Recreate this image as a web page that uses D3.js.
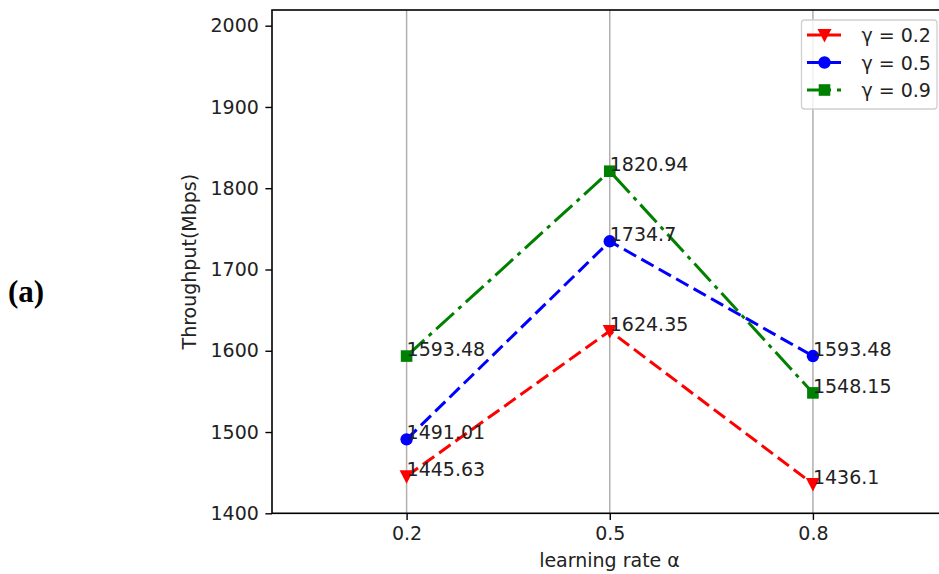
<!DOCTYPE html>
<html>
<head>
<meta charset="utf-8">
<script src="https://cdn.jsdelivr.net/npm/d3@7/dist/d3.min.js"></script>
<style>
  html, body { margin: 0; padding: 0; background: #fff; overflow: hidden; }
  svg { display: block; }
</style>
</head>
<body>
<svg id="chart" width="939" height="574"></svg>
<script>
// Learning-rate sweep: throughput for three discount factors
const learningRates = ["0.2", "0.5", "0.8"];
const gamma02 = [1445.63, 1624.35, 1436.1];
const gamma05 = [1491.01, 1734.7, 1593.48];
const gamma09 = [1593.48, 1820.94, 1548.15];
const seriesLabels = ["γ = 0.2", "γ = 0.5", "γ = 0.9"];
const yTicks = [1400, 1500, 1600, 1700, 1800, 1900, 2000];

const series = [
  { label: seriesLabels[0], values: gamma02, color: "#ff0000", dash: "14,6", marker: "tri" },
  { label: seriesLabels[1], values: gamma05, color: "#0000ff", dash: "14,6", marker: "circle" },
  { label: seriesLabels[2], values: gamma09, color: "#008000", dash: "24,6,4,6", marker: "square" }
];

const svg = d3.select("#chart");
const font = "DejaVu Sans, sans-serif";
const fs = 19;

const plot = { left: 272, right: 947, top: 10, bottom: 513.3 };

const x = d3.scaleLinear().domain([-0.6625, 2.66]).range([plot.left, plot.right]);
const y = d3.scaleLinear().domain([1400, 2019.3]).range([plot.bottom, plot.top]);

// vertical grid lines at each learning rate
svg.append("g").selectAll("line").data(learningRates).join("line")
  .attr("x1", (d, i) => x(i)).attr("x2", (d, i) => x(i))
  .attr("y1", plot.top).attr("y2", plot.bottom)
  .attr("stroke", "#b0b0b0").attr("stroke-width", 1.5);

// axes
const xAxis = d3.axisBottom(x).tickValues([0, 1, 2])
  .tickFormat(i => learningRates[i]).tickSize(6.6).tickPadding(6.3);
const yAxis = d3.axisLeft(y).tickValues(yTicks).tickFormat(d3.format("d"))
  .tickSize(6.6).tickPadding(6.6);

const gx = svg.append("g").attr("transform", `translate(0,${plot.bottom})`).call(xAxis);
const gy = svg.append("g").attr("transform", `translate(${plot.left},0)`).call(yAxis);
[gx, gy].forEach(g => {
  g.select(".domain").remove();
  g.selectAll(".tick line").attr("stroke", "#000").attr("stroke-width", 1.4);
  g.selectAll(".tick text").attr("font-family", font).attr("font-size", fs).attr("fill", "#222");
});

// frame
svg.append("rect")
  .attr("x", plot.left).attr("y", plot.top)
  .attr("width", plot.right - plot.left).attr("height", plot.bottom - plot.top)
  .attr("fill", "none").attr("stroke", "#000").attr("stroke-width", 1.6);

const line = d3.line().x((d, i) => x(i)).y(d => y(d));

function drawMarker(g, kind, cx, cy, color) {
  if (kind === "circle") {
    g.append("circle").attr("cx", cx).attr("cy", cy).attr("r", 6.2).attr("fill", color);
  } else if (kind === "square") {
    g.append("rect").attr("x", cx - 5.8).attr("y", cy - 5.8).attr("width", 11.6).attr("height", 11.6).attr("fill", color);
  } else {
    g.append("path").attr("d", `M${cx - 7},${cy - 6}L${cx + 7},${cy - 6}L${cx},${cy + 7.5}Z`).attr("fill", color);
  }
}

const marks = svg.append("g");
series.forEach(s => {
  marks.append("path").datum(s.values)
    .attr("d", line).attr("fill", "none")
    .attr("stroke", s.color).attr("stroke-width", 3)
    .attr("stroke-dasharray", s.dash);
  s.values.forEach((v, i) => drawMarker(marks, s.marker, x(i), y(v), s.color));
});

// value annotations, anchored at each point
series.forEach(s => {
  s.values.forEach((v, i) => {
    svg.append("text")
      .attr("x", x(i)).attr("y", y(v))
      .attr("font-family", font).attr("font-size", fs).attr("fill", "#222")
      .text(String(v));
  });
});

// axis titles
svg.append("text")
  .attr("x", (plot.left + plot.right) / 2).attr("y", 566.5)
  .attr("text-anchor", "middle")
  .attr("font-family", font).attr("font-size", fs).attr("fill", "#222")
  .text("learning rate α");
svg.append("text")
  .attr("transform", `translate(196,${(plot.top + plot.bottom) / 2}) rotate(-90)`)
  .attr("text-anchor", "middle")
  .attr("font-family", font).attr("font-size", fs).attr("fill", "#222")
  .text("Throughput(Mbps)");

// legend
const legend = svg.append("g");
legend.append("rect")
  .attr("x", 801.5).attr("y", 20).attr("width", 135.5).attr("height", 89)
  .attr("rx", 3).attr("fill", "#fff").attr("fill-opacity", 0.8)
  .attr("stroke", "#d0d0d0").attr("stroke-width", 1.3);
series.forEach((s, k) => {
  const ly = 35 + k * 27.5;
  legend.append("line")
    .attr("x1", 807).attr("x2", 842).attr("y1", ly).attr("y2", ly)
    .attr("stroke", s.color).attr("stroke-width", 3)
    .attr("stroke-dasharray", s.dash);
  drawMarker(legend, s.marker, 824.5, ly, s.color);
  legend.append("text")
    .attr("x", 861.5).attr("y", ly + 7)
    .attr("font-family", font).attr("font-size", fs).attr("fill", "#222")
    .text(s.label);
});

// panel tag
svg.append("text")
  .attr("x", 8).attr("y", 302)
  .attr("font-family", "Liberation Serif, Times New Roman, serif")
  .attr("font-weight", "bold").attr("font-size", 31).attr("fill", "#000")
  .text("(a)");
</script>
</body>
</html>
